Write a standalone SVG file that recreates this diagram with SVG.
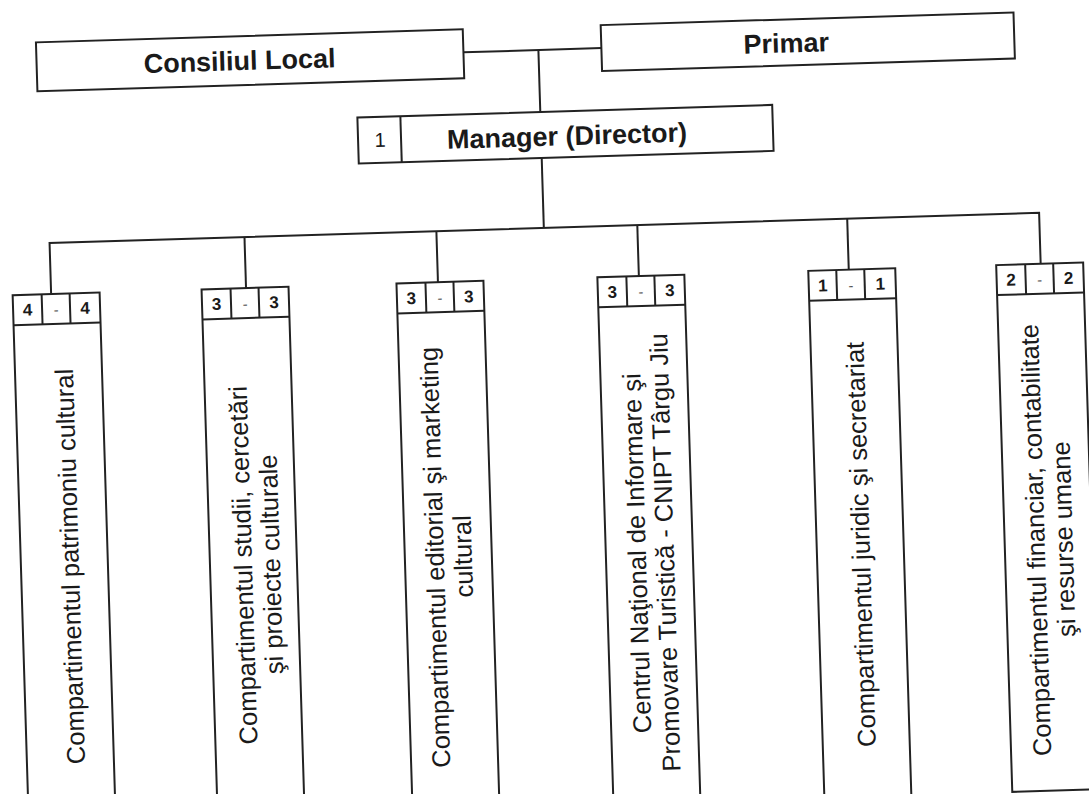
<svg xmlns="http://www.w3.org/2000/svg" width="1089" height="794" viewBox="0 0 1089 794">
  <style>
    .box { fill: #ffffff; stroke: #222222; stroke-width: 2; }
    .ln { fill: none; stroke: #222222; stroke-width: 2; }
    .hd { font-family: "Liberation Sans", Arial, sans-serif; font-weight: bold; font-size: 27px; fill: #1a1a1a; text-anchor: middle; }
    .num { font-family: "Liberation Sans", Arial, sans-serif; font-weight: bold; font-size: 17px; fill: #1a1a1a; text-anchor: middle; }
    .dash { font-family: "Liberation Sans", Arial, sans-serif; font-size: 15px; fill: #555555; text-anchor: middle; }
    .one { font-family: "Liberation Sans", Arial, sans-serif; font-size: 20px; fill: #1a1a1a; text-anchor: middle; }
    .col { font-family: "Liberation Sans", Arial, sans-serif; font-size: 25.5px; fill: #1a1a1a; text-anchor: middle; }
  </style>
  <rect x="0" y="0" width="1089" height="794" fill="#ffffff"/>
  <g transform="rotate(-1.75 544 397)">
    <g id="connectors">
      <line class="ln" x1="474" y1="50" x2="612" y2="50"/>
      <line class="ln" x1="549" y1="50" x2="549" y2="112"/>
      <line class="ln" x1="549" y1="158" x2="549" y2="228"/>
      <polyline class="ln" points="54.5,279 54.5,228 1044.5,228 1044.5,279"/>
      <line class="ln" x1="249.5" y1="228" x2="249.5" y2="279"/>
      <line class="ln" x1="441.5" y1="228" x2="441.5" y2="279"/>
      <line class="ln" x1="642.5" y1="228" x2="642.5" y2="279"/>
      <line class="ln" x1="852.5" y1="228" x2="852.5" y2="279"/>
    </g>
    <g id="consiliul">
      <rect class="box" x="47" y="27" width="427" height="49"/>
      <text class="hd" x="250" y="61">Consiliul Local</text>
    </g>
    <g id="primar">
      <rect class="box" x="612" y="27" width="413" height="46"/>
      <text class="hd" x="797" y="60">Primar</text>
    </g>
    <g id="manager">
      <rect class="box" x="366" y="112" width="415" height="46"/>
      <line class="ln" x1="409" y1="112" x2="409" y2="158"/>
      <text class="one" x="388" y="142">1</text>
      <text class="hd" x="575" y="146">Manager (Director)</text>
    </g>
    <g id="col1">
      <rect class="box" x="16" y="279" width="87" height="527"/>
      <line class="ln" x1="16" y1="309" x2="103" y2="309"/>
      <line class="ln" x1="45" y1="279" x2="45" y2="309"/>
      <line class="ln" x1="73" y1="279" x2="73" y2="309"/>
      <text class="num" x="30.5" y="300">4</text><text class="dash" x="59" y="300">-</text><text class="num" x="88" y="300">4</text>
      <text class="col" transform="translate(65 552) rotate(-90)" x="0" y="9">Compartimentul patrimoniu cultural</text>
    </g>
    <g id="col2">
      <rect class="box" x="205" y="279" width="87" height="527"/>
      <line class="ln" x1="205" y1="309" x2="292" y2="309"/>
      <line class="ln" x1="234" y1="279" x2="234" y2="309"/>
      <line class="ln" x1="262" y1="279" x2="262" y2="309"/>
      <text class="num" x="219.5" y="300">3</text><text class="dash" x="248" y="300">-</text><text class="num" x="277" y="300">3</text>
      <text class="col" transform="translate(252 556) rotate(-90)"><tspan x="0" y="-5">Compartimentul studii, cercetări</tspan><tspan x="0" y="23">şi proiecte culturale</tspan></text>
    </g>
    <g id="col3">
      <rect class="box" x="400" y="279" width="87" height="527"/>
      <line class="ln" x1="400" y1="309" x2="487" y2="309"/>
      <line class="ln" x1="429" y1="279" x2="429" y2="309"/>
      <line class="ln" x1="457" y1="279" x2="457" y2="309"/>
      <text class="num" x="414.5" y="300">3</text><text class="dash" x="443" y="300">-</text><text class="num" x="472" y="300">3</text>
      <text class="col" transform="translate(444 554) rotate(-90)"><tspan x="0" y="-5">Compartimentul editorial şi marketing</tspan><tspan x="0" y="23">cultural</tspan></text>
    </g>
    <g id="col4">
      <rect class="box" x="601" y="279" width="87" height="527"/>
      <line class="ln" x1="601" y1="309" x2="688" y2="309"/>
      <line class="ln" x1="630" y1="279" x2="630" y2="309"/>
      <line class="ln" x1="658" y1="279" x2="658" y2="309"/>
      <text class="num" x="615.5" y="300">3</text><text class="dash" x="644" y="300">-</text><text class="num" x="673" y="300">3</text>
      <text class="col" transform="translate(646 556) rotate(-90)"><tspan x="0" y="-5">Centrul Naţional de Informare şi</tspan><tspan x="0" y="23">Promovare Turistică - CNIPT Târgu Jiu</tspan></text>
    </g>
    <g id="col5">
      <rect class="box" x="812" y="279" width="87" height="527"/>
      <line class="ln" x1="812" y1="309" x2="899" y2="309"/>
      <line class="ln" x1="840" y1="279" x2="840" y2="309"/>
      <line class="ln" x1="868" y1="279" x2="868" y2="309"/>
      <text class="num" x="826" y="300">1</text><text class="dash" x="854" y="300">-</text><text class="num" x="883.5" y="300">1</text>
      <text class="col" transform="translate(856 554) rotate(-90)" x="0" y="9">Compartimentul juridic şi secretariat</text>
    </g>
    <g id="col6">
      <rect class="box" x="1000" y="279" width="87" height="527"/>
      <line class="ln" x1="1000" y1="309" x2="1087" y2="309"/>
      <line class="ln" x1="1029" y1="279" x2="1029" y2="309"/>
      <line class="ln" x1="1057" y1="279" x2="1057" y2="309"/>
      <text class="num" x="1014.5" y="300">2</text><text class="dash" x="1043" y="300">-</text><text class="num" x="1072" y="300">2</text>
      <text class="col" transform="translate(1045 555) rotate(-90)"><tspan x="0" y="-5">Compartimentul financiar, contabilitate</tspan><tspan x="0" y="23">şi resurse umane</tspan></text>
    </g>
  </g>
</svg>
